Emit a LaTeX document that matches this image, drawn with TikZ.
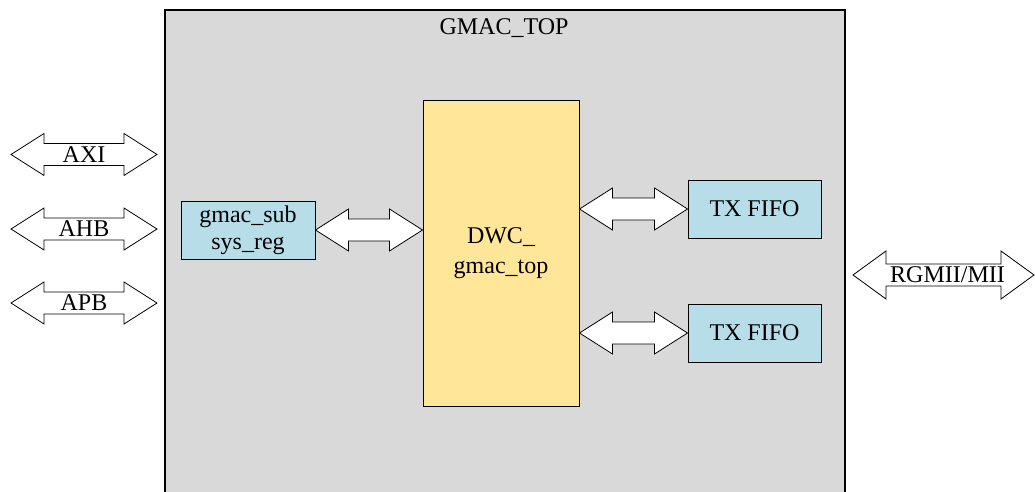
\documentclass[tikz,border=0pt]{standalone}
\usepackage{fontspec}
\setmainfont{Liberation Serif}
\usetikzlibrary{positioning, calc}

\definecolor{topgray}{HTML}{D9D9D9}
\definecolor{dwcyellow}{HTML}{FFE699}
\definecolor{regblue}{HTML}{B7DEE8}

% fat two-headed arrow between two points on one level
\newcommand{\fatarrow}[3][21pt]{%
  \draw[bigarrow] let \p1=(#2), \p2=(#3) in
    (\x1,\y1) -- ({\x1+33pt},{\y1+#1}) -- ({\x1+33pt},{\y1+11pt})
    -- ({\x2-33pt},{\y1+11pt}) -- ({\x2-33pt},{\y1+#1}) -- (\x2,\y1)
    -- ({\x2-33pt},{\y1-#1}) -- ({\x2-33pt},{\y1-11pt})
    -- ({\x1+33pt},{\y1-11pt}) -- ({\x1+33pt},{\y1-#1}) -- cycle;}

\begin{document}
\begin{tikzpicture}[x=1pt, y=-1pt,
  block/.style={draw, line width=1pt, align=center, font=\fontsize{24}{27}\selectfont},
  bigarrow/.style={draw, fill=white, line width=0.8pt, line join=miter},
  buslabel/.style={font=\fontsize{24}{28}\selectfont, inner sep=0pt}
]
  \useasboundingbox (0,0) rectangle (1035,492);

  % Top level boundary (open at the bottom)
  \fill[topgray] (165,10) rectangle (845,492);
  \draw[line width=1.2pt] (165,492) -- (165,10) -- (845,10) -- (845,492);
  \node[font=\fontsize{24}{28}\selectfont] (title) at (504,28) {GMAC\_TOP};

  % Blocks
  \node[block, fill=regblue, minimum width=134pt, minimum height=58pt] (sub) at (248,230) {gmac\_sub\\sys\_reg};
  \node[block, fill=dwcyellow, minimum width=156pt, minimum height=305pt, font=\fontsize{24}{30}\selectfont] (dwc) at (501,253.5) {DWC\_\\gmac\_top};
  \node[block, fill=regblue, minimum width=133pt, minimum height=58pt] (fifo1) at (754.5,209) {TX FIFO};
  \node[block, fill=regblue, minimum width=133pt, minimum height=58pt] (fifo2) at (754.5,333) {TX FIFO};

  % Bus ends outside
  \coordinate (axiL) at (11,154.5);  \coordinate (axiR) at (157,154.5);
  \coordinate (ahbL) at (11,229);    \coordinate (ahbR) at (157,229);
  \coordinate (apbL) at (11,303);    \coordinate (apbR) at (157,303);
  \coordinate (miiL) at (853,275);   \coordinate (miiR) at (1034,275);

  % Arrows
  \fatarrow{axiL}{axiR}
  \fatarrow{ahbL}{ahbR}
  \fatarrow{apbL}{apbR}
  \fatarrow[24pt]{miiL}{miiR}
  \fatarrow{sub.east}{sub.east -| dwc.west}
  \fatarrow{dwc.east |- fifo1.west}{fifo1.west}
  \fatarrow{dwc.east |- fifo2.west}{fifo2.west}

  % Bus names
  \node[buslabel] (axi) at ($(axiL)!0.5!(axiR)$) {AXI};
  \node[buslabel] (ahb) at ($(ahbL)!0.5!(ahbR)$) {AHB};
  \node[buslabel] (apb) at ($(apbL)!0.5!(apbR)$) {APB};
  \node[buslabel] (mii) at ($(miiL)!0.5!(miiR)+(4,0)$) {RGMII/MII};

\end{tikzpicture}
\end{document}
